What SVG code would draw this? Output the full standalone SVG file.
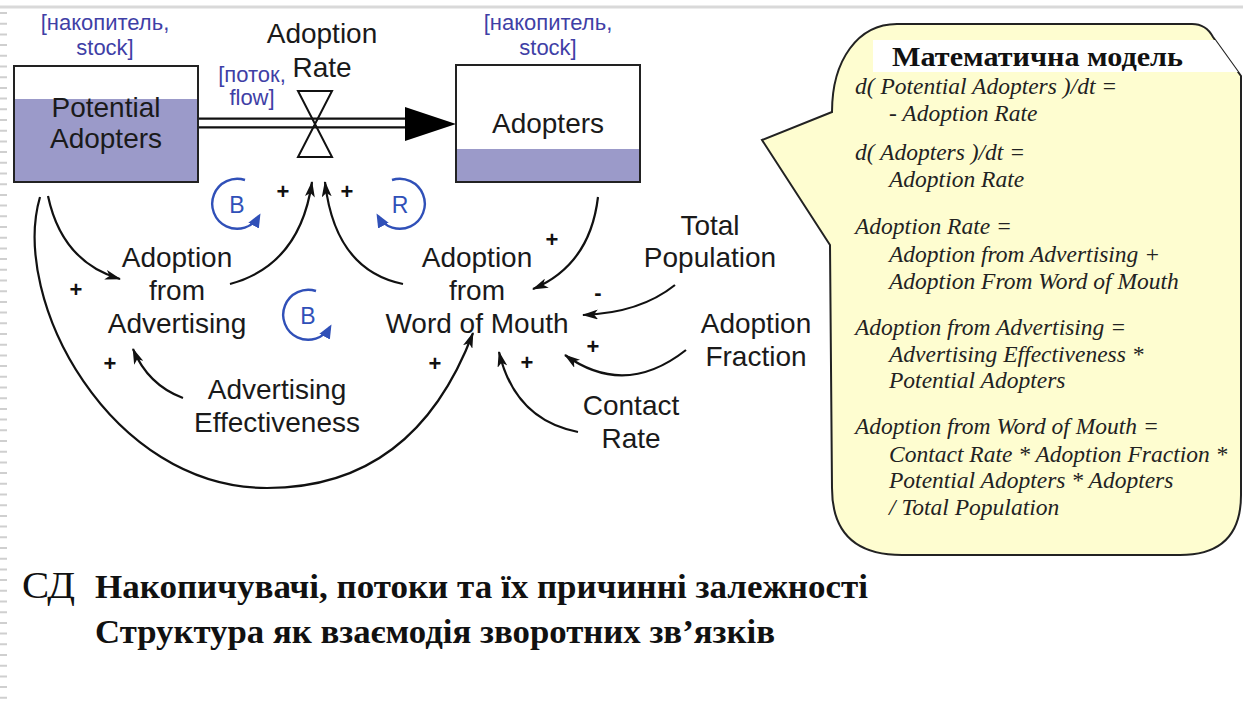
<svg xmlns="http://www.w3.org/2000/svg" width="1243" height="701" viewBox="0 0 1243 701">
<defs>
<style>
.lbl{font-family:"Liberation Sans",Arial,sans-serif;font-size:28px;fill:#1a1a1a;text-anchor:middle}
.blue{font-family:"Liberation Sans",Arial,sans-serif;font-size:22px;fill:#3f3fa6;text-anchor:middle}
.sign{font-family:"Liberation Sans",Arial,sans-serif;font-size:22px;font-weight:bold;fill:#111;text-anchor:middle}
.loopl{font-family:"Liberation Sans",Arial,sans-serif;font-size:23px;fill:#3050b8;text-anchor:middle}
.conn{fill:none;stroke:#111;stroke-width:2.2;marker-end:url(#ah)}
.loop{fill:none;stroke:#3050b8;stroke-width:2.4;marker-end:url(#bh)}
.eq{font-family:"Liberation Serif","Times New Roman",serif;font-style:italic;font-size:23.5px;fill:#222}
.stock{fill:#fff;stroke:#222;stroke-width:2}
.lev{fill:#9b9ac9}
</style>
<marker id="ah" viewBox="0 0 16 10" refX="15" refY="5" markerWidth="16" markerHeight="10" markerUnits="userSpaceOnUse" orient="auto">
<path d="M0,0 L16,5 L0,10 L4,5 z" fill="#111"/>
</marker>
<marker id="bh" viewBox="0 0 14 12" refX="11" refY="6" markerWidth="14" markerHeight="12" markerUnits="userSpaceOnUse" orient="auto">
<path d="M0,0 L14,6 L0,12 z" fill="#3050b8"/>
</marker>
</defs>
<rect width="1243" height="701" fill="#fff"/>
<line x1="0" y1="7" x2="1243" y2="7" stroke="#d9d9d9" stroke-width="3"/>
<line x1="3.5" y1="12" x2="3.5" y2="701" stroke="#cfcfcf" stroke-width="7" stroke-dasharray="2 8.7"/>

<g id="connectors">
<path class="conn" d="M48,196 Q62,262 120,279"/>
<path class="conn" d="M183,398 Q148,385 133,349"/>
<path class="conn" d="M230,284 Q300,265 312,182"/>
<path class="conn" d="M403,284 Q335,270 325,182"/>
<path class="conn" d="M40,197 C10,300 110,488 267,488 C380,488 440,420 473,333"/>
<path class="conn" d="M598,197 Q590,265 533,289"/>
<path class="conn" d="M675,285 Q640,313 583,315"/>
<path class="conn" d="M686,350 Q625,398 565,355"/>
<path class="conn" d="M578,432 Q515,420 499,352"/>
</g>

<g id="signs">
<text class="sign" x="283" y="199">+</text>
<text class="sign" x="347" y="199">+</text>
<text class="sign" x="76" y="297">+</text>
<text class="sign" x="110" y="371">+</text>
<text class="sign" x="435" y="371">+</text>
<text class="sign" x="552" y="247">+</text>
<text class="sign" x="598" y="300">-</text>
<text class="sign" x="593" y="354">+</text>
<text class="sign" x="527" y="370">+</text>
</g>

<g id="loops">
<path class="loop" d="M245,180 A25,25 0 1 0 259,216"/>
<text class="loopl" x="237" y="213">B</text>
<path class="loop" d="M392,180 A25,25 0 1 1 378,216"/>
<text class="loopl" x="400" y="213">R</text>
<path class="loop" d="M316,291 A25,25 0 1 0 330,327"/>
<text class="loopl" x="308" y="324">B</text>
</g>

<g id="flow">
<line x1="198" y1="123" x2="410" y2="123" stroke="#111" stroke-width="11"/>
<line x1="198" y1="123" x2="410" y2="123" stroke="#fff" stroke-width="6.5"/>
<path d="M405,107 L456,124 L405,141 z" fill="#000"/>
<path d="M298,91 L332,91 L315,124 L298,157 L332,157 L315,124 z" fill="none" stroke="#111" stroke-width="2"/>
<text class="lbl" x="322" y="43">Adoption</text>
<text class="lbl" x="322" y="77">Rate</text>
<text class="blue" x="252" y="82">[поток,</text>
<text class="blue" x="252" y="105">flow]</text>
</g>

<g id="potential-adopters">
<rect class="stock" x="14" y="66" width="184" height="116"/>
<rect class="lev" x="15" y="99" width="182" height="82"/>
<rect x="14" y="66" width="184" height="116" fill="none" stroke="#222" stroke-width="2"/>
<text class="lbl" x="106" y="117">Potential</text>
<text class="lbl" x="106" y="148">Adopters</text>
<text class="blue" x="105" y="30">[накопитель,</text>
<text class="blue" x="105" y="55">stock]</text>
</g>

<g id="adopters">
<rect class="stock" x="456" y="65" width="184" height="117"/>
<rect class="lev" x="457" y="149" width="182" height="32"/>
<rect x="456" y="65" width="184" height="117" fill="none" stroke="#222" stroke-width="2"/>
<text class="lbl" x="548" y="133">Adopters</text>
<text class="blue" x="548" y="30">[накопитель,</text>
<text class="blue" x="548" y="55">stock]</text>
</g>

<g id="adoption-from-advertising">
<text class="lbl" x="177" y="267">Adoption</text>
<text class="lbl" x="177" y="300">from</text>
<text class="lbl" x="177" y="333">Advertising</text>
</g>

<g id="adoption-from-wom">
<text class="lbl" x="477" y="267">Adoption</text>
<text class="lbl" x="477" y="300">from</text>
<text class="lbl" x="477" y="333">Word of Mouth</text>
</g>

<g id="advertising-effectiveness">
<text class="lbl" x="277" y="399">Advertising</text>
<text class="lbl" x="277" y="432">Effectiveness</text>
</g>

<g id="total-population">
<text class="lbl" x="710" y="235">Total</text>
<text class="lbl" x="710" y="267">Population</text>
</g>

<g id="adoption-fraction">
<text class="lbl" x="756" y="333">Adoption</text>
<text class="lbl" x="756" y="366">Fraction</text>
</g>

<g id="contact-rate">
<text class="lbl" x="631" y="415">Contact</text>
<text class="lbl" x="631" y="448">Rate</text>
</g>

<g id="model-callout">
<path d="M832,112 C832,60 858,24 897,24 L1192,24 Q1206,24 1213,37 L1241,76 L1241,495 Q1241,555 1180,555 L902,555 Q832,555 832,488 L830,245 L762,140 Z" fill="#fefdd0" stroke="#222" stroke-width="2"/>
<path d="M873,40 L1215,40 L1238,72 L873,72 Z" fill="#fff"/>
<text x="892" y="66" font-family="'Liberation Serif','Times New Roman',serif" font-weight="bold" font-size="27" fill="#111" textLength="291" lengthAdjust="spacingAndGlyphs">Математична модель</text>
<text class="eq" x="855" y="94">d( Potential Adopters )/dt =</text>
<text class="eq" x="889" y="121">- Adoption Rate</text>
<text class="eq" x="855" y="160">d( Adopters )/dt =</text>
<text class="eq" x="889" y="187">Adoption Rate</text>
<text class="eq" x="855" y="234">Adoption Rate =</text>
<text class="eq" x="889" y="262">Adoption from Advertising +</text>
<text class="eq" x="889" y="289">Adoption From Word of Mouth</text>
<text class="eq" x="855" y="335">Adoption from Advertising =</text>
<text class="eq" x="889" y="362">Advertising Effectiveness *</text>
<text class="eq" x="889" y="388">Potential Adopters</text>
<text class="eq" x="855" y="434">Adoption from Word of Mouth =</text>
<text class="eq" x="889" y="462">Contact Rate * Adoption Fraction *</text>
<text class="eq" x="889" y="488">Potential Adopters * Adopters</text>
<text class="eq" x="889" y="515">/ Total Population</text>
</g>

<g id="caption">
<text x="22" y="598" font-family="'Liberation Serif','Times New Roman',serif" font-size="38" fill="#111" textLength="53" lengthAdjust="spacingAndGlyphs">СД</text>
<text x="95" y="598" font-family="'Liberation Serif','Times New Roman',serif" font-weight="bold" font-size="33" fill="#111" textLength="773" lengthAdjust="spacingAndGlyphs">Накопичувачі, потоки та їх причинні залежності</text>
<text x="95" y="643" font-family="'Liberation Serif','Times New Roman',serif" font-weight="bold" font-size="33" fill="#111" textLength="680" lengthAdjust="spacingAndGlyphs">Структура як взаємодія зворотних зв’язків</text>
</g>
</svg>
